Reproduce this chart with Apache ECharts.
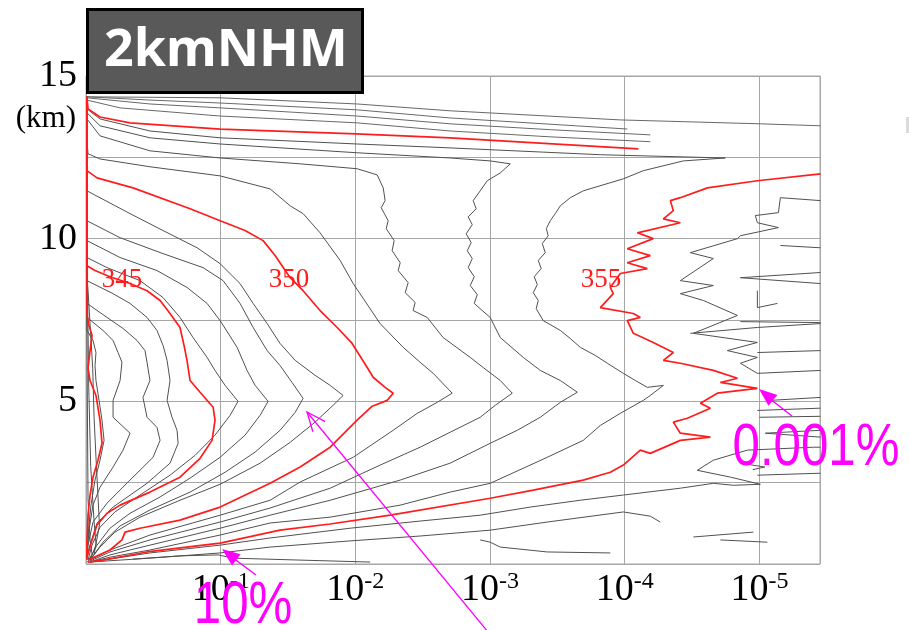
<!DOCTYPE html>
<html>
<head>
<meta charset="utf-8">
<script src="https://cdn.jsdelivr.net/npm/echarts@6/dist/echarts.min.js"></script>
<style>
  html, body { margin: 0; padding: 0; background: #fff; }
  #chart { width: 909px; height: 630px; }
</style>
</head>
<body>
<div id="chart"></div>
<script>
// Exceedance frequency of theta-e by height.
// Each point is [decades below 1 (frequency = 10^-d), height in km].
const freqDecadesMax = 5.45;
const heightTicks = [5, 10, 15];

const th336 = [[0.005,14.36],[0.005,9],[0.01,5],[0.015,2],[0.03,0.75],[0.045,0.3],[0.01,0.05]];
const th337 = [[0.006,14.36],[0.01,9],[0.02,5.5],[0.035,3],[0.06,1.3],[0.075,0.6],[0.03,0.1]];
const th338 = [[0.007,14.36],[0.012,8.6],[0.03,7.4],[0.05,6],[0.06,4.5],[0.075,3.2],[0.09,2],[0.1,1.2],[0.06,0.3]];
const th340 = [[0.007,14.36],[0.007,7.64],[0.022,7.33],[0.045,7.02],[0.03,6.56],[0.015,6.01],[0.03,5.64],[0.074,5.18],[0.104,4.42],[0.119,3.71],[0.089,3.19],[0.052,2.67],[0.03,2.12],[0.015,1.5],[0.007,0.74],[0.007,0.12]];
const th341 = [[0.007,14.36],[0.007,7.18],[0.052,6.87],[0.074,6.5],[0.067,6.1],[0.074,5.64],[0.097,5.03],[0.119,4.42],[0.134,3.8],[0.104,3.19],[0.067,2.58],[0.037,1.81],[0.015,0.89],[0.007,0.18]];
const th342 = [[0.007,14.36],[0.007,7.58],[0.126,7.18],[0.201,6.87],[0.238,6.5],[0.267,6.2],[0.253,5.64],[0.201,5.03],[0.201,4.51],[0.327,4.02],[0.275,3.5],[0.201,2.98],[0.104,2.36],[0.052,1.81],[0.022,1.04],[0.007,0.18]];
const th343 = [[0.007,14.36],[0.007,8.01],[0.156,7.58],[0.275,7.24],[0.379,6.87],[0.438,6.56],[0.453,6.2],[0.475,5.64],[0.423,5.12],[0.453,4.51],[0.527,4.2],[0.55,3.8],[0.498,3.28],[0.327,2.58],[0.156,1.87],[0.052,1.29],[0.015,0.58],[0.007,0.18]];
const th344 = [[0.007,14.36],[0.007,8.71],[0.201,8.31],[0.327,8.01],[0.453,7.58],[0.527,7.18],[0.572,6.72],[0.602,6.26],[0.624,5.64],[0.602,5.03],[0.639,4.51],[0.676,4.11],[0.684,3.71],[0.624,3.1],[0.453,2.48],[0.201,1.75],[0.082,1.26],[0.03,0.58],[0.007,0.18]];
const th345 = [[0.007,14.36],[0.007,9.17],[0.067,9.02],[0.178,8.83],[0.327,8.62],[0.453,8.4],[0.55,8.1],[0.624,7.7],[0.698,7.27],[0.728,6.72],[0.75,6.26],[0.773,5.64],[0.847,5.28],[0.944,4.82],[0.958,4.42],[0.936,3.8],[0.847,3.25],[0.698,2.67],[0.475,2.21],[0.253,1.81],[0.156,1.56],[0.082,1.2],[0.045,0.74],[0.007,0.21]];
const th346 = [[0.007,14.36],[0.007,9.42],[0.156,9.11],[0.401,8.71],[0.572,8.19],[0.698,7.58],[0.795,6.96],[0.899,6.35],[0.958,5.95],[1.033,5.49],[1.129,5.0],[1.07,4.57],[0.958,3.96],[0.81,3.34],[0.624,2.73],[0.401,2.12],[0.215,1.6],[0.104,1.13],[0.045,0.58],[0.015,0.12]];
const th347 = [[0.007,14.36],[0.007,9.94],[0.253,9.42],[0.527,9.02],[0.75,8.5],[0.899,8.01],[0.996,7.48],[1.122,6.66],[1.196,5.95],[1.256,5.49],[1.352,5.0],[1.293,4.57],[1.181,3.96],[0.996,3.28],[0.773,2.64],[0.55,2.06],[0.327,1.56],[0.178,1.1],[0.082,0.58],[0.022,0.12]];
const th348 = [[0.007,14.36],[0.007,10.55],[0.253,10.03],[0.572,9.54],[0.869,9.11],[1.018,8.71],[1.144,8.01],[1.241,7.27],[1.345,6.56],[1.441,6.1],[1.53,5.58],[1.612,5.09],[1.553,4.66],[1.441,4.11],[1.256,3.44],[1.033,2.82],[0.773,2.21],[0.475,1.66],[0.253,1.17],[0.126,0.67],[0.03,0.12]];
const th349 = [[0.007,14.36],[0.007,11.47],[0.327,10.77],[0.572,10.25],[0.825,9.72],[0.996,9.23],[1.144,8.62],[1.241,8.01],[1.345,7.39],[1.441,6.78],[1.553,6.26],[1.701,5.8],[1.813,5.49],[1.909,5.18],[1.835,4.88],[1.701,4.36],[1.516,3.74],[1.293,3.1],[0.996,2.45],[0.698,1.96],[0.401,1.44],[0.215,0.98],[0.104,0.52],[0.03,0.12]];
const th350 = [[0.007,14.36],[0.007,12.09],[0.082,11.87],[0.349,11.56],[0.773,10.92],[0.996,10.55],[1.181,10.25],[1.315,9.94],[1.404,9.48],[1.516,8.8],[1.612,8.4],[1.738,7.79],[1.865,7.27],[1.976,6.78],[2.088,6.04],[2.132,5.74],[2.221,5.43],[2.281,5.25],[2.236,5.03],[2.125,4.85],[2.013,4.42],[1.813,3.59],[1.59,2.98],[1.367,2.48],[0.996,1.75],[0.698,1.35],[0.401,1.1],[0.29,0.98],[0.267,0.74],[0.178,0.43],[0.015,0.12]];
const th351 = [[0.007,14.36],[0.007,13.0],[0.015,12.61],[0.104,12.45],[0.475,12.21],[0.996,11.93],[1.367,11.53],[1.516,11.01],[1.612,10.77],[1.738,10.18],[1.887,9.33],[1.984,8.62],[2.184,7.39],[2.355,6.66],[2.481,6.2],[2.578,5.86],[2.719,5.25],[2.608,4.97],[2.459,4.63],[2.281,4.11],[1.984,3.28],[1.59,2.52],[1.367,1.96],[0.996,1.5],[0.475,0.89],[0.178,0.43],[0.03,0.12]];
const th352 = [[0.007,14.36],[0.007,13.68],[0.104,13.16],[0.475,12.7],[0.996,12.48],[1.59,12.3],[2.013,12.15],[2.162,11.96],[2.207,11.56],[2.221,11.17],[2.192,10.95],[2.244,10.55],[2.229,10.31],[2.288,9.94],[2.273,9.63],[2.333,9.26],[2.318,9.02],[2.392,8.65],[2.37,8.34],[2.444,8.04],[2.429,7.79],[2.533,7.58],[2.652,6.96],[2.853,6.35],[2.949,6.04],[3.076,5.64],[3.165,5.25],[3.039,4.88],[2.927,4.51],[2.704,4.05],[2.481,3.59],[2.184,3.04],[1.813,2.33],[1.367,1.72],[0.996,1.29],[0.475,0.74],[0.178,0.37],[0.03,0.09]];
const th353 = [[0.007,14.36],[0.007,13.87],[0.104,13.47],[0.475,13.1],[0.996,12.91],[2.013,12.64],[2.704,12.48],[3.001,12.39],[3.15,12.3],[3.076,12.02],[2.979,11.78],[2.927,11.47],[2.875,11.17],[2.897,10.92],[2.838,10.67],[2.868,10.43],[2.823,10.15],[2.86,9.88],[2.831,9.63],[2.868,9.39],[2.838,9.11],[2.883,8.83],[2.853,8.56],[2.905,8.28],[2.883,8.01],[2.942,7.79],[3.001,7.58],[3.076,6.96],[3.247,6.35],[3.373,5.95],[3.522,5.64],[3.648,5.28],[3.522,4.97],[3.373,4.51],[3.202,4.11],[3.001,3.71],[2.704,3.1],[2.333,2.58],[1.813,1.96],[1.367,1.5],[0.996,1.1],[0.475,0.58],[0.178,0.28],[0.03,0.06]];
const th354 = [[0.007,14.36],[0.007,13.99],[0.104,13.68],[0.475,13.31],[0.996,13.1],[2.013,12.91],[2.704,12.79],[3.819,12.58],[4.747,12.48],[4.435,12.39],[4.138,12.09],[3.99,11.84],[3.692,11.47],[3.596,11.26],[3.522,11.01],[3.484,10.77],[3.447,10.55],[3.418,10.31],[3.432,10.09],[3.388,9.85],[3.41,9.57],[3.358,9.33],[3.38,9.08],[3.328,8.83],[3.351,8.59],[3.321,8.34],[3.358,8.1],[3.343,7.85],[3.395,7.48],[3.522,7.18],[3.596,6.93],[3.67,6.66],[3.782,6.41],[3.871,6.17],[3.99,5.86],[4.079,5.64],[4.168,5.43],[4.287,5.49],[4.19,5.18],[4.138,5.03],[3.967,4.63],[3.819,4.26],[3.692,3.8],[3.425,3.28],[3.001,2.48],[2.704,2.21],[2.333,1.81],[1.813,1.44],[1.367,1.26],[0.996,0.89],[0.475,0.43],[0.178,0.21],[0.03,0.06]];
const th355 = [[0.015,0.06],[0.126,0.12],[0.453,0.37],[0.996,0.64],[1.441,1.04],[1.813,1.23],[2.259,1.5],[3.001,2.02],[3.321,2.27],[3.692,2.58],[3.893,2.82],[3.99,3.04],[4.116,3.5],[4.19,3.4],[4.413,3.8],[4.636,3.9],[4.413,4.02],[4.361,4.36],[4.465,4.48],[4.636,4.79],[4.562,4.94],[4.688,5.25],[4.985,5.4],[4.71,5.58],[4.837,5.71],[4.658,5.95],[4.413,6.17],[4.287,6.26],[4.361,6.5],[4.212,6.81],[4.064,7.09],[4.019,7.48],[4.116,7.58],[4.064,7.7],[3.819,7.88],[3.915,8.31],[3.893,8.5],[3.967,8.93],[4.168,9.08],[4.019,9.26],[4.19,9.48],[4.019,9.69],[4.212,10.0],[4.094,10.18],[4.413,10.49],[4.287,10.61],[4.361,10.86],[4.339,11.17],[4.413,11.26],[4.614,11.56],[4.985,11.78],[5.453,11.99]];
const th356 = [[0.03,0.06],[0.475,0.34],[0.996,0.58],[1.367,0.8],[1.961,1.1],[2.481,1.32],[2.927,1.5],[3.299,1.75],[3.67,1.96],[3.99,2.12],[4.413,2.33],[4.658,2.48],[4.807,2.42],[5.007,2.45],[4.785,2.67],[4.539,2.88],[4.658,3.19],[4.911,3.5],[5.401,3.59],[5.453,3.59]];
const th356Upper = [[5.453,11.17],[5.156,11.26],[5.141,10.8],[4.97,10.71],[4.985,10.49],[5.141,10.34],[4.859,10.09],[4.837,10.0],[4.487,9.57],[4.658,9.39],[4.413,8.71],[4.658,8.56],[4.413,8.31],[4.584,8.1],[4.837,7.64],[4.51,7.09],[4.985,6.81],[4.762,6.56],[4.985,6.35],[4.859,6.17],[4.985,5.86],[5.453,5.95]];
const th357 = [[0.03,0.06],[0.475,0.18],[0.996,0.34],[1.367,0.52],[1.961,0.71],[2.481,0.86],[3.001,1.04],[3.425,1.29],[3.99,1.6],[4.19,1.47],[4.264,1.29]];
const th357PartA = [[5.453,9.72],[5.156,9.79]];
const th357PartB = [[5.453,8.96],[4.859,8.8],[5.453,8.62]];
const th357PartC = [[4.985,8.4],[4.985,7.88],[5.134,8.01]];
const th357PartD = [[4.859,7.45],[5.453,7.42]];
const th357PartE = [[5.453,5.12],[5.082,5.03]];
const th357PartF = [[5.453,4.79],[4.985,4.72]];
const th357PartG = [[5.453,4.11],[5.044,4.02],[5.453,3.9]];
const th357PartH = [[5.453,2.79],[4.985,2.73]];
const th357PartI = [[4.487,7.09],[4.985,7.27],[5.453,7.39]];
const th357PartJ = [[4.985,6.5],[5.453,6.56]];
const th357PartK = [[5.0,4.51],[5.453,4.54]];
const th357PartL = [[4.86,3.1],[5.04,2.98],[4.95,2.9]];
const th358A = [[0.349,0.15],[0.698,0.25],[0.981,0.28],[1.092,0.18],[1.59,0.12],[2.11,0.06]];
const th358B = [[2.927,0.74],[3.001,0.67],[3.076,0.52],[3.425,0.37],[3.893,0.34]];
const th359A = [[4.51,0.83],[4.955,0.98]];
const th359B = [[4.71,0.74],[5.059,0.67]];
const th360 = [[0.007,14.36],[0.015,13.99],[0.104,13.74],[0.327,13.56],[0.996,13.37],[2.006,13.22],[2.704,13.1],[4.101,12.76]];
const th361 = [[0.007,14.26],[0.253,14.02],[0.996,13.77],[2.013,13.56],[2.704,13.31],[3.447,13.13],[4.19,12.98]];
const th362 = [[0.007,14.33],[0.475,14.14],[0.996,14.02],[2.013,13.77],[2.704,13.53],[3.447,13.35],[4.19,13.19]];
const th363 = [[0.007,14.36],[0.475,14.26],[0.996,14.17],[2.013,13.96],[2.704,13.71],[4.019,13.37]];
const th364 = [[0.007,14.36],[0.996,14.33],[2.013,14.14],[2.704,13.93],[3.967,13.65],[5.007,13.53],[5.453,13.47]];

const grayLines = [th336, th337, th338, th341, th342, th343, th344, th346, th347, th348, th349,
  th351, th352, th353, th354, th356, th356Upper, th357, th357PartA, th357PartB, th357PartC,
  th357PartD, th357PartE, th357PartF, th357PartG, th357PartH, th357PartI, th357PartJ,
  th357PartK, th357PartL, th358A, th358B, th359A, th359B];
const upperLines = [th361, th362, th363, th364];
const redLines = [th340, th345, th350, th355, th360];

const chart = echarts.init(document.getElementById('chart'), null, { renderer: 'canvas' });

function toSeries(points, color, width) {
  return {
    type: 'line',
    data: points.map(p => [Math.pow(10, -p[0]), p[1]]),
    showSymbol: false,
    symbol: 'none',
    silent: true,
    clip: true,
    lineStyle: { color: color, width: width },
    emphasis: { disabled: true }
  };
}

const series = [];
grayLines.forEach(p => series.push(toSeries(p, '#505050', 1)));
upperLines.forEach(p => series.push(toSeries(p, '#686868', 1)));
redLines.forEach(p => series.push(toSeries(p, '#ff1c1c', 1.7)));

// filled arrow head polygon from tail to tip
function arrowHead(x1, y1, x2, y2, len, half) {
  const a = Math.atan2(y2 - y1, x2 - x1);
  const bx = x2 - len * Math.cos(a), by = y2 - len * Math.sin(a);
  const nx = -Math.sin(a) * half, ny = Math.cos(a) * half;
  return [[x2, y2], [bx + nx, by + ny], [bx - nx, by - ny]];
}
function openHead(x1, y1, x2, y2, len, half) {
  const pts = arrowHead(x1, y1, x2, y2, len, half);
  return [pts[1], pts[0], pts[2]];
}

const magenta = '#ff00ff';
const serif = '"Liberation Serif", "Times New Roman", serif';
const callout = '"Liberation Sans", Arial, sans-serif';

chart.setOption({
  animation: false,
  grid: { left: 86, right: 89, top: 76, bottom: 66, show: true, borderColor: '#a6a6a6', borderWidth: 1, backgroundColor: 'transparent' },
  xAxis: {
    type: 'log',
    logBase: 10,
    inverse: true,
    min: Math.pow(10, -freqDecadesMax),
    max: 1,
    axisLine: { show: false },
    axisTick: { show: false },
    splitLine: { show: true, lineStyle: { color: '#a6a6a6', width: 1 } },
    axisLabel: {
      margin: 6,
      formatter: function (v) {
        const lg = Math.log10(v);
        const e = Math.round(lg);
        if (Math.abs(lg - e) > 1e-6 || e === 0) return '';
        return '{a|10}{b|' + e + '}';
      },
      rich: {
        a: { fontFamily: serif, fontSize: 38, lineHeight: 40, color: '#000' },
        b: { fontFamily: serif, fontSize: 24, lineHeight: 24, color: '#000', verticalAlign: 'top' }
      }
    }
  },
  yAxis: {
    type: 'value',
    min: 0,
    max: 15,
    interval: 2.5,
    axisLine: { show: false },
    axisTick: { show: false },
    splitLine: { show: true, lineStyle: { color: '#a6a6a6', width: 1 } },
    axisLabel: {
      margin: 9,
      fontFamily: serif,
      fontSize: 38,
      color: '#000',
      formatter: v => heightTicks.indexOf(v) >= 0 ? String(v) : ''
    }
  },
  series: series,
  graphic: [
    { type: 'text', x: 76, y: 119, z: 10,
      style: { text: '(km)', fontFamily: serif, fontSize: 31, fill: '#000', align: 'right', verticalAlign: 'middle' } },
    { type: 'rect', z: 20, shape: { x: 87.5, y: 9.5, width: 275, height: 83 },
      style: { fill: '#595959', stroke: '#000', lineWidth: 3 } },
    { type: 'text', z: 21, x: 226, y: 51,
      style: { text: '2kmNHM', fontFamily: '"Noto Sans", sans-serif', fontWeight: 'bold', fontSize: 52, fill: '#fff', align: 'center', verticalAlign: 'middle' } },
    { type: 'text', z: 10, x: 122, y: 280,
      style: { text: '345', fontFamily: serif, fontSize: 27, fill: '#ff1c1c', align: 'center', verticalAlign: 'middle' } },
    { type: 'text', z: 10, x: 289, y: 280,
      style: { text: '350', fontFamily: serif, fontSize: 27, fill: '#ff1c1c', align: 'center', verticalAlign: 'middle' } },
    { type: 'text', z: 10, x: 601, y: 280,
      style: { text: '355', fontFamily: serif, fontSize: 27, fill: '#ff1c1c', align: 'center', verticalAlign: 'middle' } },
    // arrows
    { type: 'line', z: 30, shape: { x1: 256, y1: 575, x2: 229, y2: 555 }, style: { stroke: magenta, lineWidth: 1.5 } },
    { type: 'polygon', z: 30, shape: { points: arrowHead(256, 575, 222, 549, 18, 7) }, style: { fill: magenta } },
    { type: 'line', z: 30, shape: { x1: 488, y1: 632, x2: 307, y2: 412 }, style: { stroke: magenta, lineWidth: 1.3 } },
    { type: 'polyline', z: 30, shape: { points: openHead(488, 632, 307, 412, 19, 8) }, style: { stroke: magenta, lineWidth: 1.3, fill: null } },
    { type: 'line', z: 30, shape: { x1: 792, y1: 416, x2: 765, y2: 395 }, style: { stroke: magenta, lineWidth: 1.5 } },
    { type: 'polygon', z: 30, shape: { points: arrowHead(792, 416, 759, 389, 18, 7) }, style: { fill: magenta } },
    { type: 'text', z: 31, x: 243, y: 606, scaleX: 0.82,
      style: { text: '10%', fontFamily: callout, fontSize: 60, fill: magenta, align: 'center', verticalAlign: 'middle' } },
    { type: 'text', z: 31, x: 816, y: 448, scaleX: 0.82,
      style: { text: '0.001%', fontFamily: callout, fontSize: 60, fill: magenta, align: 'center', verticalAlign: 'middle' } },
    { type: 'rect', z: 5, shape: { x: 906, y: 117, width: 3, height: 16 }, style: { fill: '#dcdcdc' } }
  ]
});
</script>
</body>
</html>
